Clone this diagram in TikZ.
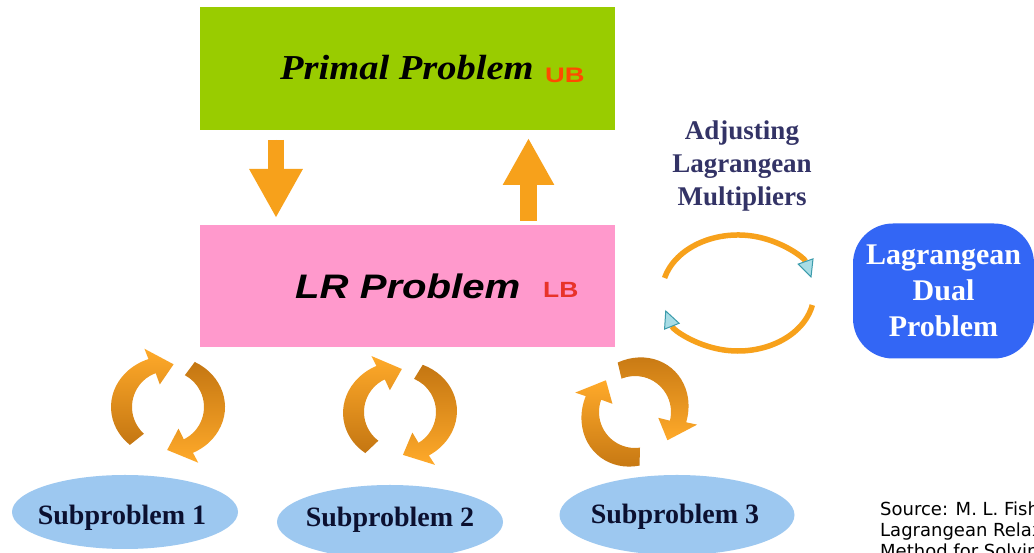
\documentclass[tikz,border=0pt]{standalone}
\usepackage{fontspec}
\usepackage{graphicx}
\setmainfont{Liberation Serif}
\newfontfamily\arialfont{Liberation Sans}
\newfontfamily\notefont{DejaVu Sans}
\usetikzlibrary{arrows.meta,shapes.geometric,calc}

\definecolor{primalgreen}{HTML}{99CC00}
\definecolor{lrpink}{HTML}{FF99CC}
\definecolor{flowor}{HTML}{F7A11B}
\definecolor{ubred}{HTML}{FF4A00}
\definecolor{lbred}{HTML}{E8332A}
\definecolor{dualblue}{HTML}{3366F5}
\definecolor{subblue}{HTML}{9DC8F0}
\definecolor{subtext}{HTML}{0B1030}
\definecolor{adjtext}{HTML}{333366}
\definecolor{tipfill}{HTML}{A8DDE6}
\definecolor{tipedge}{HTML}{3C9CAC}
\definecolor{ribbonlight}{HTML}{FFAA2A}
\definecolor{ribbondark}{HTML}{C47612}

\tikzset{
  stagebox/.style={minimum width=415pt, minimum height=123pt, inner sep=0pt, outer sep=0pt},
  blockarrow/.style={draw=flowor, fill=flowor},
  subell/.style={ellipse, fill=subblue, inner sep=0pt, outer sep=0pt},
  subtxt/.style={font=\fontsize{28}{32}\selectfont\bfseries, text=subtext, inner sep=0pt},
  loopline/.style={draw=flowor, line width=5.5pt,
    -{Triangle[length=18pt, width=17pt, fill=tipfill, color=tipedge, line width=1pt]}},
}

% one curved ribbon arrow of a cycle icon: centre, rotation, tail angle, head angle, shading
\newcommand\spinarrow[5]{%
  \begin{scope}[shift={#1}, rotate=#2]
    \shade[#5] (#3:57 and 51) arc[start angle=#3, end angle=#4, x radius=57, y radius=51]
      -- (#4:69 and 62) -- ({#4-27}:46 and 43) -- (#4:24 and 24) -- (#4:36 and 36)
      arc[start angle=#4, end angle=#3, x radius=36, y radius=36] -- cycle;
  \end{scope}}
\newcommand\spincycle[2]{%
  \spinarrow{#1}{#2}{228}{110}{top color=ribbonlight, bottom color=ribbondark}
  \spinarrow{#1}{#2}{62}{-64}{top color=ribbondark, bottom color=ribbonlight}}

\begin{document}
\begin{tikzpicture}[x=1pt, y=1pt]
  \useasboundingbox (0,0) rectangle (1034,553);
  \fill[white] (0,0) rectangle (1034,553);
  \begin{scope}
    \clip (0,0) rectangle (1034,553);

    % primal and relaxed problem boxes
    \node[stagebox, fill=primalgreen] (primal) at (407.5,484.5) {};
    \node[stagebox, fill=lrpink, minimum height=122pt] (lr) at (407.5,267) {};

    \node[anchor=base west, inner sep=0pt, font=\fontsize{35}{40}\selectfont\bfseries\itshape]
      (primaltxt) at (280,473) {\scalebox{1.1}[1]{Primal Problem}};
    \node[anchor=base west, inner sep=0pt, text=ubred, font=\arialfont\fontsize{21}{24}\selectfont\bfseries]
      (ub) at (545,470) {\scalebox{1.3}[1]{UB}};
    \node[anchor=base west, inner sep=0pt, font=\arialfont\fontsize{34}{38}\selectfont\bfseries\itshape]
      (lrtxt) at (295,254) {\scalebox{1.18}[1]{LR Problem}};
    \node[anchor=base west, inner sep=0pt, text=lbred, font=\arialfont\fontsize{22}{24}\selectfont\bfseries]
      (lb) at (543,255) {\scalebox{1.2}[1]{LB}};

    % block arrows between the two boxes
    \draw[blockarrow, line width=16pt, -{Triangle[length=49pt, width=50pt]}, shorten <=10pt, shorten >=7pt]
      ($(primal.south west)+(76,0)$) -- ($(lr.north west)+(76,0)$);
    \draw[blockarrow, line width=17pt, -{Triangle[length=47pt, width=48pt]}, shorten <=4pt, shorten >=8pt]
      ($(lr.north west)+(328.5,0)$) -- ($(primal.south west)+(328.5,0)$);

    % multiplier update loop
    \node[align=center, inner sep=0pt, text=adjtext, font=\fontsize{27}{33}\selectfont\bfseries]
      (adjust) at (742,387) {Adjusting\\Lagrangean\\Multipliers};
    \coordinate (loopc) at (738,260);
    \draw[loopline] (loopc) ++(165:76 and 58) arc[start angle=165, end angle=15, x radius=76, y radius=58];
    \draw[loopline] (loopc) ++(-12:76 and 58) arc[start angle=-12, end angle=-163, x radius=76, y radius=58];

    % dual problem
    \node[fill=dualblue, rounded corners=40pt, minimum width=181pt, minimum height=135pt,
      text=white, align=center, inner sep=0pt, font=\fontsize{30}{36}\selectfont\bfseries]
      (dual) at (943.5,262) {Lagrangean\\Dual\\Problem};

    % cycle icons over the subproblems
    \spincycle{(168,146)}{0}
    \spincycle{(400,141)}{5}
    \spincycle{(635,141)}{50}

    % subproblems
    \node[subell, minimum width=226pt, minimum height=74pt] (sub1) at (125,41) {};
    \node[subell, minimum width=226pt, minimum height=74pt] (sub2) at (390,31) {};
    \node[subell, minimum width=235pt, minimum height=80pt] (sub3) at (677,38) {};
    \node[subtxt] (sub1txt) at (122,35) {Subproblem 1};
    \node[subtxt] (sub2txt) at (390,33) {Subproblem 2};
    \node[subtxt] (sub3txt) at (675,36) {Subproblem 3};

    % reference note, running off the right and bottom edges
    \node[anchor=base west, align=left, inner sep=0pt, font=\notefont\fontsize{18}{21}\selectfont]
      (source) at (880,-5) {Source: M. L. Fisher,\\Lagrangean Relaxation\\Method for Solving};
  \end{scope}
\end{tikzpicture}
\end{document}
